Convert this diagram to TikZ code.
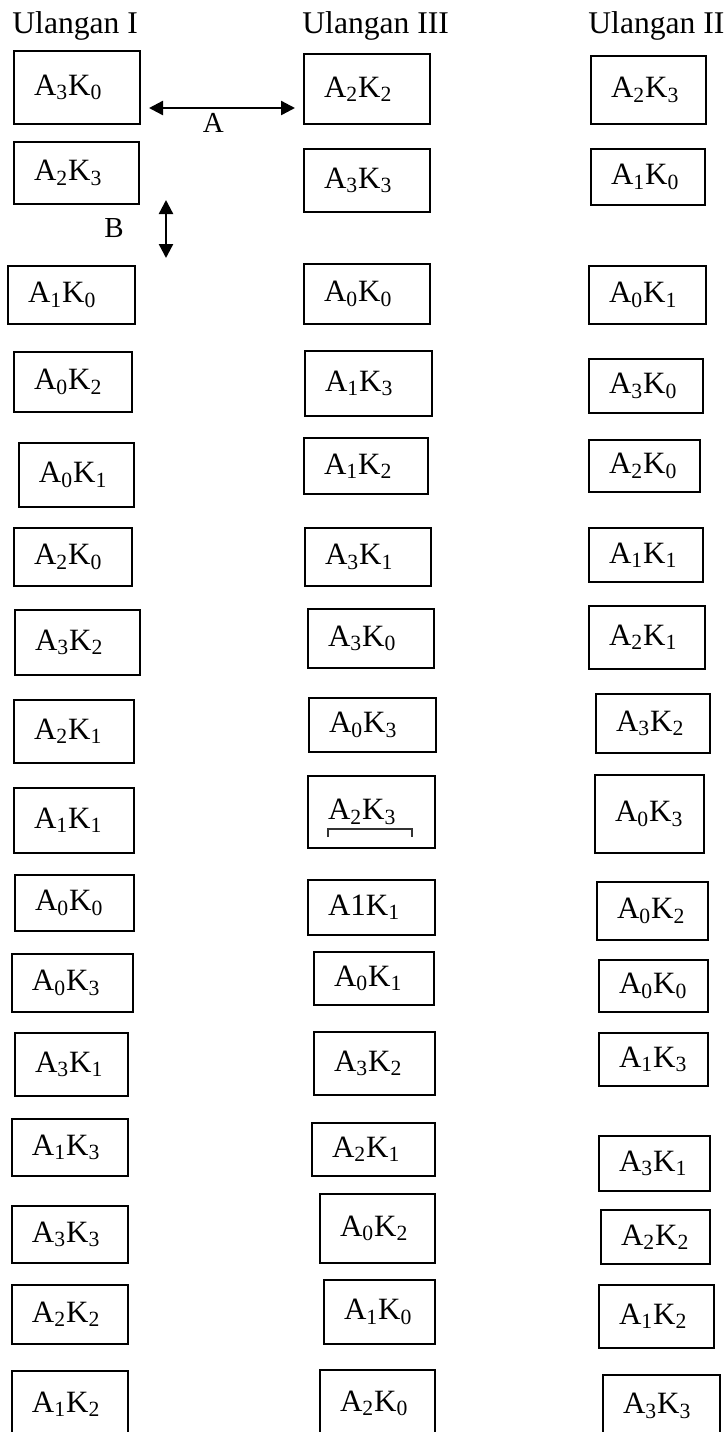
\documentclass[tikz,border=0pt]{standalone}
\usepackage{fontspec}
\setmainfont{Liberation Serif}
\usepackage{tikz}
\usetikzlibrary{arrows.meta, positioning}

\newcommand{\ak}[2]{A\textsubscript{#1}K\textsubscript{#2}}

\begin{document}
\begin{tikzpicture}[
    x=0.5pt, y=-0.5pt,
    cell/.style={rectangle, draw, line width=1pt, anchor=north west, inner xsep=10pt, inner ysep=0pt, align=left, font=\fontsize{15.5}{18}\selectfont},
    cellsize/.style 2 args={minimum width=#1*0.5pt, minimum height=#2*0.5pt, text width=#1*0.5pt-20pt},
    head/.style={anchor=base west, inner sep=0pt, font=\fontsize{15.8}{18}\selectfont},
    lbl/.style={font=\fontsize{14.5}{17}\selectfont},
    dblarrow/.style={{Triangle[length=7pt,width=7pt]}-{Triangle[length=7pt,width=7pt]}, line width=1.2pt}
]
\useasboundingbox (0,0) rectangle (726,1432);

\node[head] (hI) at (12,33) {Ulangan I};
\node[head] (hIII) at (302,33) {Ulangan III};
\node[head] (hII) at (588,33) {Ulangan II};

\node[cell, cellsize={126}{73}] (i1) at (13,50) {\ak30};
\node[cell, cellsize={125}{62}] (i2) at (13,141) {\ak23};
\node[cell, cellsize={127}{58}] (i3) at (7,265) {\ak10};
\node[cell, cellsize={118}{60}] (i4) at (13,351) {\ak02};
\node[cell, cellsize={115}{64}] (i5) at (18,442) {\ak01};
\node[cell, cellsize={118}{58}] (i6) at (13,527) {\ak20};
\node[cell, cellsize={125}{65}] (i7) at (14,609) {\ak32};
\node[cell, cellsize={120}{63}] (i8) at (13,699) {\ak21};
\node[cell, cellsize={120}{65}] (i9) at (13,787) {\ak11};
\node[cell, cellsize={119}{56}] (i10) at (14,874) {\ak00};
\node[cell, cellsize={121}{58}] (i11) at (11,953) {\ak03};
\node[cell, cellsize={113}{63}] (i12) at (14,1032) {\ak31};
\node[cell, cellsize={116}{57}] (i13) at (11,1118) {\ak13};
\node[cell, cellsize={116}{57}] (i14) at (11,1205) {\ak33};
\node[cell, cellsize={116}{59}] (i15) at (11,1284) {\ak22};
\node[cell, cellsize={116}{66}] (i16) at (11,1370) {\ak12};

\node[cell, cellsize={126}{70}] (iii1) at (303,53) {\ak22};
\node[cell, cellsize={126}{63}] (iii2) at (303,148) {\ak33};
\node[cell, cellsize={126}{60}] (iii3) at (303,263) {\ak00};
\node[cell, cellsize={127}{65}] (iii4) at (304,350) {\ak13};
\node[cell, cellsize={124}{56}] (iii5) at (303,437) {\ak12};
\node[cell, cellsize={126}{58}] (iii6) at (304,527) {\ak31};
\node[cell, cellsize={126}{59}] (iii7) at (307,608) {\ak30};
\node[cell, cellsize={127}{54}] (iii8) at (308,697) {\ak03};
\node[cell, cellsize={127}{72}] (iii9) at (307,775) {\ak23};
\node[cell, cellsize={127}{55}] (iii10) at (307,879) {A1K\textsubscript{1}};
\node[cell, cellsize={120}{53}] (iii11) at (313,951) {\ak01};
\node[cell, cellsize={121}{63}] (iii12) at (313,1031) {\ak32};
\node[cell, cellsize={123}{53}] (iii13) at (311,1122) {\ak21};
\node[cell, cellsize={115}{69}] (iii14) at (319,1193) {\ak02};
\node[cell, cellsize={111}{64}] (iii15) at (323,1279) {\ak10};
\node[cell, cellsize={115}{67}] (iii16) at (319,1369) {\ak20};

\node[cell, cellsize={115}{68}] (ii1) at (590,55) {\ak23};
\node[cell, cellsize={114}{56}] (ii2) at (590,148) {\ak10};
\node[cell, cellsize={117}{58}] (ii3) at (588,265) {\ak01};
\node[cell, cellsize={114}{54}] (ii4) at (588,358) {\ak30};
\node[cell, cellsize={111}{52}] (ii5) at (588,439) {\ak20};
\node[cell, cellsize={114}{54}] (ii6) at (588,527) {\ak11};
\node[cell, cellsize={116}{63}] (ii7) at (588,605) {\ak21};
\node[cell, cellsize={114}{59}] (ii8) at (595,693) {\ak32};
\node[cell, cellsize={109}{78}] (ii9) at (594,774) {\ak03};
\node[cell, cellsize={111}{58}] (ii10) at (596,881) {\ak02};
\node[cell, cellsize={109}{52}] (ii11) at (598,959) {\ak00};
\node[cell, cellsize={109}{53}] (ii12) at (598,1032) {\ak13};
\node[cell, cellsize={111}{55}] (ii13) at (598,1135) {\ak31};
\node[cell, cellsize={109}{54}] (ii14) at (600,1209) {\ak22};
\node[cell, cellsize={115}{63}] (ii15) at (598,1284) {\ak12};
\node[cell, cellsize={117}{62}] (ii16) at (602,1374) {\ak33};

\draw[dblarrow] ([shift={(8,20.5)}]i1.east) -- node[lbl, below, pos=0.44, inner sep=2pt] (labA) {A} ([shift={(-8,19)}]iii1.west);

\coordinate (btop) at (166,200);
\coordinate (bbot) at (166,258);
\draw[dblarrow] (btop) -- (bbot);
\node[lbl] (labB) at (114,228) {B};

\draw[line width=0.6pt, black!80] (328,837) -- (328,829) -- (412,829) -- (412,837);
\end{tikzpicture}
\end{document}
